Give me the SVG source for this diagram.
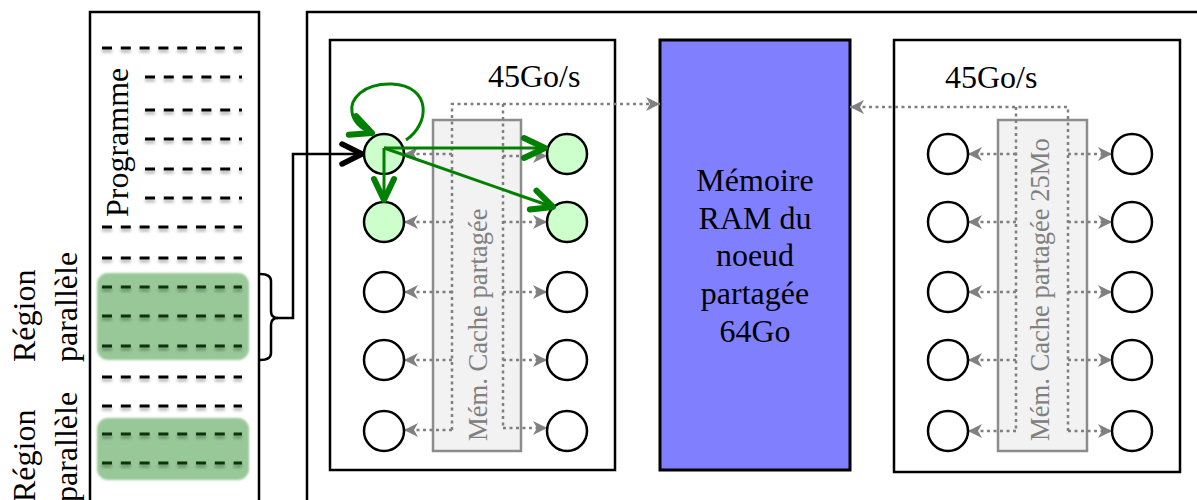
<svg xmlns="http://www.w3.org/2000/svg" width="1197" height="500" viewBox="0 0 1197 500">
<style>
.box{fill:#fff;stroke:#000;stroke-width:2.5}
.serif{font-family:"Liberation Serif","Times New Roman",serif}
.lbl{font-size:32px;fill:#000}
.cache{fill:#f2f2f2;stroke:#8c8c8c;stroke-width:2.5}
.ctext{font-size:26.6px;fill:#808080}
.dot{fill:none;stroke:#808080;stroke-width:2.5;stroke-dasharray:3 3.5}
.core{fill:#fff;stroke:#000;stroke-width:2.5}
.act{fill:#ccffcc}
.dash{stroke:#000;stroke-width:3;stroke-dasharray:10 8.8}
.gdash{stroke:#0a330a;stroke-width:3;stroke-dasharray:10 8.8}
.green{fill:none;stroke:#008000;stroke-width:3}
</style>
<defs>
<filter id="sh" x="-10%" y="-100%" width="120%" height="400%">
<feDropShadow dx="0" dy="3" stdDeviation="1.8" flood-color="#000" flood-opacity="0.3"/>
</filter>
<filter id="soft" x="-10%" y="-10%" width="120%" height="130%">
<feGaussianBlur stdDeviation="0.8"/>
</filter>
<marker id="ga" markerUnits="userSpaceOnUse" viewBox="-16 -9 18 18" refX="0" refY="0" markerWidth="18" markerHeight="18" orient="auto">
<path d="M-14,-7 L0,0 L-14,7 L-10,0 z" fill="#808080"/>
</marker>
<marker id="gc" markerUnits="userSpaceOnUse" viewBox="-26 -14 30 28" refX="0" refY="0" markerWidth="30" markerHeight="28" orient="auto">
<path d="M-21,-10 L0,0 L-21,10" fill="none" stroke="#008000" stroke-width="6" stroke-linecap="round" stroke-linejoin="round"/>
</marker>
<marker id="bc" markerUnits="userSpaceOnUse" viewBox="-26 -14 30 28" refX="0" refY="0" markerWidth="30" markerHeight="28" orient="auto">
<path d="M-20,-10 L0,0 L-20,10" fill="none" stroke="#000" stroke-width="5.5" stroke-linecap="round" stroke-linejoin="round"/>
</marker>
</defs>
<rect width="1197" height="500" fill="#fff"/>

<g id="programme">
<rect x="90" y="12" width="169" height="500" class="box"/>
<g filter="url(#soft)">
<rect x="97" y="273" width="152" height="87" rx="11" fill="#98c898"/>
<rect x="97" y="418" width="152" height="62" rx="11" fill="#98c898"/>
</g>
<g filter="url(#sh)">
<line x1="102" y1="48" x2="242" y2="48" class="dash"/>
<line x1="145" y1="77" x2="242" y2="77" class="dash"/>
<line x1="145" y1="110" x2="242" y2="110" class="dash"/>
<line x1="145" y1="139" x2="242" y2="139" class="dash"/>
<line x1="145" y1="169" x2="242" y2="169" class="dash"/>
<line x1="145" y1="198" x2="242" y2="198" class="dash"/>
<line x1="102" y1="227" x2="242" y2="227" class="dash"/>
<line x1="102" y1="258" x2="242" y2="258" class="dash"/>
<line x1="102" y1="287" x2="242" y2="287" class="gdash"/>
<line x1="102" y1="316" x2="242" y2="316" class="gdash"/>
<line x1="102" y1="346" x2="242" y2="346" class="gdash"/>
<line x1="102" y1="377" x2="242" y2="377" class="dash"/>
<line x1="102" y1="406" x2="242" y2="406" class="dash"/>
<line x1="102" y1="434" x2="242" y2="434" class="gdash"/>
<line x1="102" y1="463" x2="242" y2="463" class="gdash"/>
</g>
<text class="serif lbl" transform="translate(128,217) rotate(-90)">Programme</text>
</g>

<g id="labels">
<text class="serif lbl" transform="translate(35,362) rotate(-90)">Région</text>
<text class="serif lbl" transform="translate(77,362) rotate(-90)">parallèle</text>
<text class="serif lbl" transform="translate(35,502) rotate(-90)">Région</text>
<text class="serif lbl" transform="translate(77,502) rotate(-90)">parallèle</text>
</g>

<g id="noeud">
<rect x="307" y="12" width="900" height="500" class="box"/>
</g>

<g id="socket1">
<rect x="330" y="40" width="285" height="430" class="box"/>
<text class="serif lbl" x="488" y="87">45Go/s</text>
<rect x="433" y="120" width="88" height="331" class="cache"/>
<text class="serif ctext" transform="translate(487,441) rotate(-90)">Mém. Cache partagée</text>
</g>

<g id="ram">
<rect x="660" y="40" width="190" height="430" fill="#8080ff" stroke="#000" stroke-width="3"/>
<g class="serif lbl" text-anchor="middle">
<text x="755" y="191">Mémoire</text>
<text x="755" y="229">RAM du</text>
<text x="755" y="266">noeud</text>
<text x="755" y="304">partagée</text>
<text x="755" y="342">64Go</text>
</g>
</g>

<g id="socket2">
<rect x="894" y="40" width="286" height="432" class="box"/>
<text class="serif lbl" x="945" y="88">45Go/s</text>
<rect x="998" y="120" width="89" height="331" class="cache"/>
<text class="serif ctext" transform="translate(1049,441) rotate(-90)">Mém. Cache partagée 25Mo</text>
</g>

<g id="connectors">
<path class="dot" d="M452,430 V104 H660" marker-end="url(#ga)"/>
<path class="dot" d="M503,104 V428"/>
<path class="dot" d="M452,154 H404" marker-end="url(#ga)"/>
<path class="dot" d="M452,222 H404" marker-end="url(#ga)"/>
<path class="dot" d="M452,292 H404" marker-end="url(#ga)"/>
<path class="dot" d="M452,360 H404" marker-end="url(#ga)"/>
<path class="dot" d="M452,430 H404" marker-end="url(#ga)"/>
<path class="dot" d="M503,156 H547" marker-end="url(#ga)"/>
<path class="dot" d="M503,222 H547" marker-end="url(#ga)"/>
<path class="dot" d="M503,292 H547" marker-end="url(#ga)"/>
<path class="dot" d="M503,360 H547" marker-end="url(#ga)"/>
<path class="dot" d="M503,428 H547" marker-end="url(#ga)"/>
<path class="dot" d="M1068,431 V107 H850" marker-end="url(#ga)"/>
<path class="dot" d="M1016,107 V431"/>
<path class="dot" d="M1016,154 H968" marker-end="url(#ga)"/>
<path class="dot" d="M1016,222 H968" marker-end="url(#ga)"/>
<path class="dot" d="M1016,292 H968" marker-end="url(#ga)"/>
<path class="dot" d="M1016,360 H968" marker-end="url(#ga)"/>
<path class="dot" d="M1016,431 H968" marker-end="url(#ga)"/>
<path class="dot" d="M1068,154 H1112" marker-end="url(#ga)"/>
<path class="dot" d="M1068,222 H1112" marker-end="url(#ga)"/>
<path class="dot" d="M1068,292 H1112" marker-end="url(#ga)"/>
<path class="dot" d="M1068,360 H1112" marker-end="url(#ga)"/>
<path class="dot" d="M1068,431 H1112" marker-end="url(#ga)"/>
<path d="M260,274 Q271,274 271,281 V311 Q271,318 278,318 Q271,318 271,325 V353 Q271,360 260,360" fill="none" stroke="#000" stroke-width="2.5"/>
<path d="M277,318 H293 V154 H362" fill="none" stroke="#000" stroke-width="2.5" marker-end="url(#bc)"/>
</g>

<g id="cores1">
<circle cx="384" cy="154" r="20" class="core act"/>
<circle cx="384" cy="222" r="20" class="core act"/>
<circle cx="384" cy="292" r="20" class="core"/>
<circle cx="384" cy="360" r="20" class="core"/>
<circle cx="384" cy="431" r="20" class="core"/>
<circle cx="567" cy="154" r="20" class="core act"/>
<circle cx="567" cy="222" r="20" class="core act"/>
<circle cx="567" cy="292" r="20" class="core"/>
<circle cx="567" cy="360" r="20" class="core"/>
<circle cx="567" cy="431" r="20" class="core"/>
</g>

<g id="cores2">
<circle cx="948" cy="154" r="20" class="core"/>
<circle cx="948" cy="222" r="20" class="core"/>
<circle cx="948" cy="292" r="20" class="core"/>
<circle cx="948" cy="360" r="20" class="core"/>
<circle cx="948" cy="431" r="20" class="core"/>
<circle cx="1132" cy="154" r="20" class="core"/>
<circle cx="1132" cy="222" r="20" class="core"/>
<circle cx="1132" cy="292" r="20" class="core"/>
<circle cx="1132" cy="360" r="20" class="core"/>
<circle cx="1132" cy="431" r="20" class="core"/>
</g>

<g id="threads">
<path class="green" d="M384,148 H545" marker-end="url(#gc)"/>
<path class="green" d="M384,148 V200" marker-end="url(#gc)"/>
<path class="green" d="M384,148 L553,207" marker-end="url(#gc)"/>
<path class="green" d="M406,140 C430,124 432,86 392,84 C362,83 350,100 352,112 Q354,126 372,133" marker-end="url(#gc)"/>
</g>
</svg>
